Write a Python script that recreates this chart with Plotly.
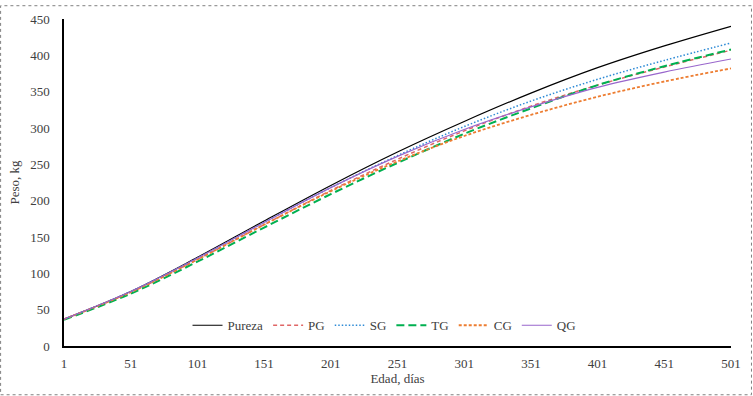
import plotly.graph_objects as go

days = [1, 51, 101, 151, 201, 251, 301, 351, 401, 451, 501]
pureza = [37, 75, 122, 172, 221, 267, 309, 348, 383, 413, 440]
pg = [37, 74, 119, 167, 214, 257, 296, 330, 359, 384, 407]
sg = [37, 75, 121, 170, 218, 262, 302, 337, 367, 393, 417]
tg = [36, 72, 116, 163, 209, 252, 292, 327, 359, 385, 408]
cg = [37, 74, 119, 167, 213, 254, 289, 318, 343, 364, 382]
qg = [37, 75, 121, 170, 218, 261, 298, 329, 356, 377, 395]

x_ticks = [1, 51, 101, 151, 201, 251, 301, 351, 401, 451, 501]
y_ticks = [0, 50, 100, 150, 200, 250, 300, 350, 400, 450]

series = [
    ("Pureza", pureza, "#000000", "solid", 1.2),
    ("PG", pg, "#E06666", "4px,3px", 1.5),
    ("SG", sg, "#2E8BD6", "1.5px,2px", 1.5),
    ("TG", tg, "#00B050", "8px,4px", 2),
    ("CG", cg, "#ED7D31", "3px,2px", 1.8),
    ("QG", qg, "#9966CC", "solid", 1.2),
]

fig = go.Figure()
for name, vals, color, dash, w in series:
    fig.add_trace(go.Scatter(
        x=days, y=vals, name=name, mode="lines",
        line=dict(color=color, dash=dash, width=w, shape="spline", smoothing=1.0),
    ))

W, H = 753, 396
L, R, T, B = 64, 21, 14, 50
pw, ph = W - L - R, H - T - B

fig.update_layout(
    width=W, height=H,
    margin=dict(l=L, r=R, t=T, b=B, pad=0),
    paper_bgcolor="white", plot_bgcolor="white",
    font=dict(family="Liberation Serif", size=13, color="#404040"),
    showlegend=True,
    legend=dict(
        orientation="h", x=(385 - L) / pw, xanchor="center",
        y=21 / ph, yanchor="middle",
        bgcolor="rgba(0,0,0,0)", font=dict(size=13, color="#404040"),
        itemwidth=30,
    ),
    xaxis=dict(
        range=[1, 501], tickvals=x_ticks, ticktext=[str(v) for v in x_ticks],
        showgrid=False, zeroline=False, showline=True, linecolor="#000000", linewidth=1.5,
        ticks="", ticklabelstandoff=5,
        title=dict(text="Edad, días", standoff=2, font=dict(size=13)),
    ),
    yaxis=dict(
        range=[0, 450], tickvals=y_ticks,
        showgrid=False, zeroline=False, showline=True, linecolor="#000000", linewidth=1.5,
        ticks="", ticklabelstandoff=10, title=dict(text="Peso, kg", standoff=8, font=dict(size=13)),
    ),
    shapes=[dict(
        type="rect", xref="paper", yref="paper",
        x0=(0.5 - L) / pw, x1=(W - 0.5 - L) / pw,
        y0=(ph + T - (H - 0.5)) / ph, y1=(ph + T - 0.5) / ph,
        line=dict(color="#808080", width=1, dash="dot"), layer="below",
    )],
)

fig.write_html(
    "out.html",
    config={"displayModeBar": False},
    post_script="document.body.style.margin='0';document.body.style.overflow='hidden';",
)
